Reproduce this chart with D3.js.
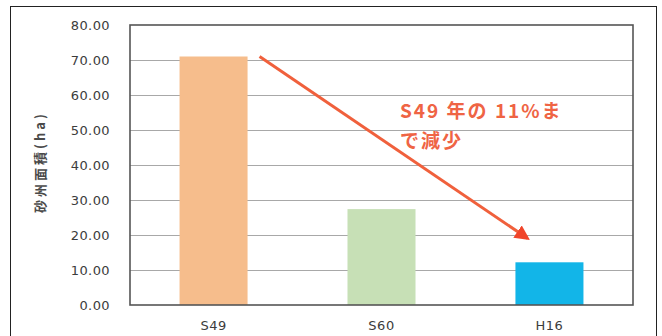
<!DOCTYPE html>
<html><head><meta charset="utf-8">
<script src="https://cdn.jsdelivr.net/npm/d3@7"></script>
<style>body{margin:0;background:#fff}svg{display:block}</style>
</head><body>
<script>
const categories = ["S49", "S60", "H16"];
const values = [71.0, 27.4, 12.2];
const barColors = ["#f6bd8c", "#c7e0b6", "#12b5e8"];
const yTicks = [0, 10, 20, 30, 40, 50, 60, 70, 80];
const yTitle = "砂州面積(ha)";
const noteLines = ["S49 年の 11%ま", "で減少"];

const W = 662, H = 336;
const svg = d3.select("body").append("svg").attr("width", W).attr("height", H);
svg.append("rect").attr("x", 10.5).attr("y", 6.5).attr("width", 646).attr("height", 340)
  .attr("fill", "#fff").attr("stroke", "#222").attr("stroke-width", 1);

const m = {l: 130, r: 633, t: 25, b: 305};
const x = d3.scaleBand().domain(categories).range([m.l, m.r]).paddingInner(0.595).paddingOuter(0.295);
const y = d3.scaleLinear().domain([0, 80]).range([m.b, m.t]);

const font = "'DejaVu Sans', 'Liberation Sans', sans-serif";

// gridlines
svg.append("g").selectAll("line").data(yTicks.filter(d => d > 0 && d < 80)).join("line")
  .attr("x1", m.l).attr("x2", m.r).attr("y1", d => y(d) + 0.5).attr("y2", d => y(d) + 0.5)
  .attr("stroke", "#a8a8a8").attr("stroke-width", 1.2);

// bars
svg.append("g").selectAll("rect").data(categories).join("rect")
  .attr("x", d => x(d)).attr("width", x.bandwidth())
  .attr("y", (d, i) => y(values[i])).attr("height", (d, i) => y(0) - y(values[i]))
  .attr("fill", (d, i) => barColors[i]);

// frame
svg.append("rect").attr("x", m.l).attr("y", m.t).attr("width", m.r - m.l).attr("height", m.b - m.t)
  .attr("fill", "none").attr("stroke", "#555").attr("stroke-width", 1.6);

// y axis
const yAxis = d3.axisLeft(y).tickValues(yTicks).tickFormat(d3.format(".2f")).tickSize(0).tickPadding(20);
const gy = svg.append("g").attr("transform", `translate(${m.l},0)`).call(yAxis);
gy.select(".domain").remove();
gy.selectAll("text").attr("font-family", font).attr("font-size", 13).attr("letter-spacing", 0.4).attr("fill", "#3c3c3c");

// x axis
const xAxis = d3.axisBottom(x).tickSize(0).tickPadding(16);
const gx = svg.append("g").attr("transform", `translate(0,${m.b})`).call(xAxis);
gx.select(".domain").remove();
gx.selectAll("text").attr("font-family", font).attr("font-size", 13).attr("letter-spacing", 0.5).attr("fill", "#3c3c3c");

// y title
svg.append("text").attr("transform", `translate(45,162) rotate(-90)`)
  .attr("text-anchor", "middle").attr("font-family", "'Noto Sans CJK JP', sans-serif")
  .attr("font-size", 13).attr("letter-spacing", 3).attr("font-weight", "bold").attr("fill", "#4a4a4a").text(yTitle);

// arrow
const defs = svg.append("defs");
defs.append("marker").attr("id", "ah").attr("viewBox", "0 0 10 10").attr("refX", 8).attr("refY", 5)
  .attr("markerWidth", 5).attr("markerHeight", 5).attr("orient", "auto")
  .append("path").attr("d", "M0,0L10,5L0,10z").attr("fill", "#f0452a");
const x0 = x("S49") + x.bandwidth() + 12, y0 = y(values[0]);
const x1 = x("H16") + 12, y1 = y(values[2]) - 24;
svg.append("line").attr("x1", x0).attr("y1", y0).attr("x2", x1).attr("y2", y1)
  .attr("stroke", "#f0603c").attr("stroke-width", 3).attr("marker-end", "url(#ah)");

// note
svg.append("text").attr("font-family", "'Noto Sans CJK JP', sans-serif").attr("font-size", 19)
  .attr("letter-spacing", 2).attr("font-weight", "bold").attr("fill", "#ef6444")
  .selectAll("tspan").data(noteLines).join("tspan")
  .attr("x", 400).attr("y", (d, i) => 118 + i * 30).text(d => d);
</script>
</body></html>
